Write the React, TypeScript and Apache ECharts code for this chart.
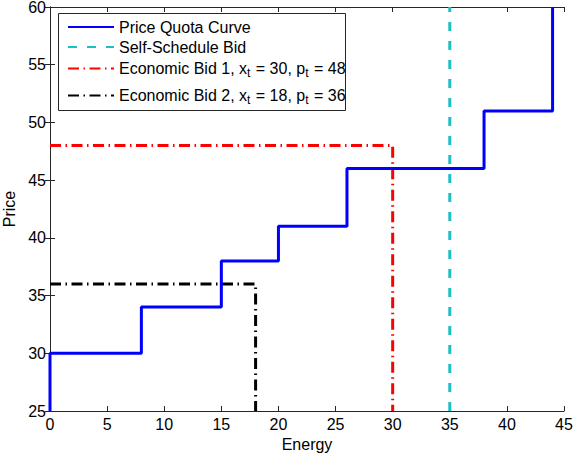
import React, { useEffect, useRef } from "react";
import * as echarts from "echarts";

const quotaX = [0, 0, 8, 8, 15, 15, 20, 20, 26, 26, 38, 38, 44, 44];
const quotaY = [25, 30, 30, 34, 34, 38, 38, 41, 41, 46, 46, 51, 51, 60];
const selfX = [35, 35];
const selfY = [25, 60];
const bid1X = [0, 30, 30];
const bid1Y = [48, 48, 25];
const bid2X = [0, 18, 18];
const bid2Y = [36, 36, 25];
const xTicks = [0, 5, 10, 15, 20, 25, 30, 35, 40, 45];
const yTicks = [25, 30, 35, 40, 45, 50, 55, 60];
const seriesNames = [
  "Price Quota Curve",
  "Self-Schedule Bid",
  "Economic Bid 1, x{sub|t} = 30, p{sub|t} = 48",
  "Economic Bid 2, x{sub|t} = 18, p{sub|t} = 36",
];
const seriesColors = ["#0000ff", "#1cc0c4", "#ff0000", "#000000"];

const zip = (xs: number[], ys: number[]) => xs.map((x, i) => [x, ys[i]]);

export default function App() {
  const ref = useRef<HTMLDivElement>(null);
  useEffect(() => {
    const chart = echarts.init(ref.current!, null, { renderer: "svg" });
    const font = "Liberation Sans, Arial, sans-serif";
    const xMin = xTicks[0], xMax = xTicks[xTicks.length - 1];
    const yMin = yTicks[0], yMax = yTicks[yTicks.length - 1];
    const axisCommon = {
      type: "value" as const,
      interval: 5,
      axisLine: { show: true, lineStyle: { color: "#262626", width: 1 } },
      axisTick: { show: true, inside: true, length: 5, lineStyle: { color: "#262626" } },
      splitLine: { show: false },
    };
    const rowCentres = [27, 47, 69, 96];
    const hasSub = [false, false, true, true];
    const legends = seriesNames.map((name, i) => ({
      show: true,
      left: 67,
      top: rowCentres[i] - (hasSub[i] ? 11 : 8),
      orient: "vertical",
      itemWidth: 46,
      itemHeight: 16,
      padding: 0,
      selectedMode: false,
      itemStyle: { opacity: 0 },
      data: [name],
      z: 6,
      textStyle: {
        fontFamily: font,
        fontSize: 16,
        lineHeight: 16,
        color: "#000",
        rich: {
          sub: {
            fontSize: 12,
            lineHeight: 10,
            fontFamily: font,
            padding: [9, 1, 0, 0],
            color: "#000",
          },
        },
      },
    }));
    chart.setOption({
      animation: false,
      backgroundColor: "#ffffff",
      textStyle: { fontFamily: font },
      grid: {
        left: 50,
        right: 10,
        top: 7,
        bottom: 49,
        containLabel: false,
        outerBoundsMode: "none",
      },
      graphic: [
        {
          type: "rect",
          z: 5,
          shape: { x: 58.5, y: 13.5, width: 287, height: 97 },
          style: { fill: "#ffffff", stroke: "#262626", lineWidth: 1 },
        },
      ],
      legend: legends,
      xAxis: [
        {
          ...axisCommon,
          min: xMin,
          max: xMax,
          name: "Energy",
          nameLocation: "middle",
          nameGap: 24,
          nameTextStyle: { fontSize: 16, color: "#000", fontFamily: font },
          axisLabel: { fontSize: 16, lineHeight: 12, color: "#000", margin: 7, fontFamily: font },
        },
        {
          ...axisCommon,
          min: xMin,
          max: xMax,
          position: "top",
          axisLabel: { show: false },
        },
      ],
      yAxis: [
        {
          ...axisCommon,
          min: yMin,
          max: yMax,
          name: "Price",
          nameLocation: "middle",
          nameGap: 21,
          nameTextStyle: { fontSize: 16, color: "#000", fontFamily: font },
          axisLabel: { fontSize: 16, lineHeight: 12, color: "#000", margin: 4, fontFamily: font },
        },
        {
          ...axisCommon,
          min: yMin,
          max: yMax,
          position: "right",
          axisLabel: { show: false },
        },
      ],
      series: [
        {
          name: seriesNames[0],
          type: "line",
          data: zip(quotaX, quotaY),
          symbol: "none",
          color: seriesColors[0],
          lineStyle: { color: seriesColors[0], width: 3, type: "solid" },
          z: 4,
        },
        {
          name: seriesNames[1],
          type: "line",
          data: zip(selfX, selfY),
          symbol: "none",
          color: seriesColors[1],
          lineStyle: { color: seriesColors[1], width: 3, type: [9, 10] },
          z: 2,
        },
        {
          name: seriesNames[2],
          type: "line",
          data: zip(bid1X, bid1Y),
          symbol: "none",
          color: seriesColors[2],
          lineStyle: { color: seriesColors[2], width: 3, type: [11, 4.5, 1.5, 4.5] },
          z: 3,
        },
        {
          name: seriesNames[3],
          type: "line",
          data: zip(bid2X, bid2Y),
          symbol: "none",
          color: seriesColors[3],
          lineStyle: { color: seriesColors[3], width: 3, type: [11, 4.5, 1.5, 4.5] },
          z: 3,
        },
      ],
    });
    return () => chart.dispose();
  }, []);
  return (
    <div
      ref={ref}
      style={{ position: "fixed", left: 0, top: 0, width: 574, height: 460 }}
    />
  );
}
